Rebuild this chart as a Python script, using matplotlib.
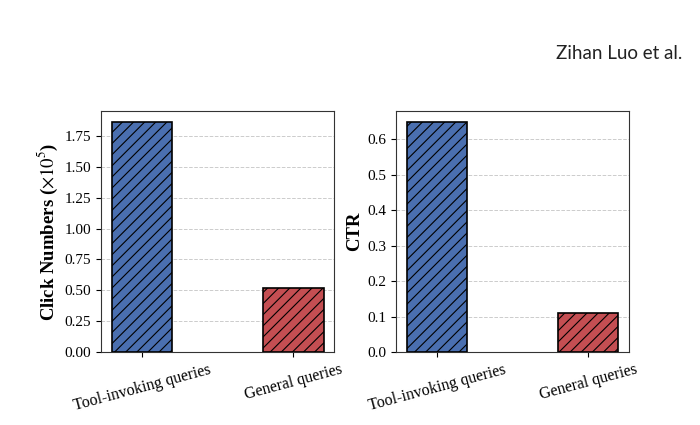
import matplotlib
matplotlib.use("Agg")
import matplotlib.pyplot as plt

categories = ["Tool-invoking queries", "General queries"]
clicks = [1.86, 0.52]
ctr = [0.648, 0.11]
colors = ["#4a6fb0", "#c44e52"]

plt.rcParams['font.family'] = ['Liberation Serif', 'DejaVu Serif']
plt.rcParams['mathtext.fontset'] = 'stix'
plt.rcParams['hatch.linewidth'] = 0.8

fig = plt.figure(figsize=(7, 4.25), dpi=100)
ax1 = fig.add_axes([0.1443, 0.1718, 0.333, 0.567])
ax2 = fig.add_axes([0.5657, 0.1718, 0.333, 0.567])

for ax, vals, label in [(ax1, clicks, r'Click Numbers ($\times 10^5$)'), (ax2, ctr, 'CTR')]:
    ax.bar(range(len(categories)), vals, width=0.4, color=colors,
           edgecolor='black', linewidth=1.2, hatch='///', zorder=3)
    ax.set_xticks(range(len(categories)))
    ax.set_xticklabels(categories, rotation=15, fontsize=11.5)
    ax.tick_params(axis='y', labelsize=11)
    ax.set_ylabel(label, fontsize=13.5, fontweight='bold', labelpad=3)
    ax.yaxis.grid(True, linestyle='--', color='#cccccc', linewidth=0.7, zorder=0)
    for s in ax.spines.values():
        s.set_color('#333333')
        s.set_linewidth(0.8)

ax1.set_yticks([0, 0.25, 0.5, 0.75, 1.0, 1.25, 1.5, 1.75])
ax1.set_yticklabels(['0.00', '0.25', '0.50', '0.75', '1.00', '1.25', '1.50', '1.75'])

fig.text(0.974, 0.873, 'Zihan Luo et al.', ha='right', va='center',
         fontsize=13.5, family=['Lato', 'DejaVu Sans'], color='#222222')

fig.savefig('out.png', dpi=100)
